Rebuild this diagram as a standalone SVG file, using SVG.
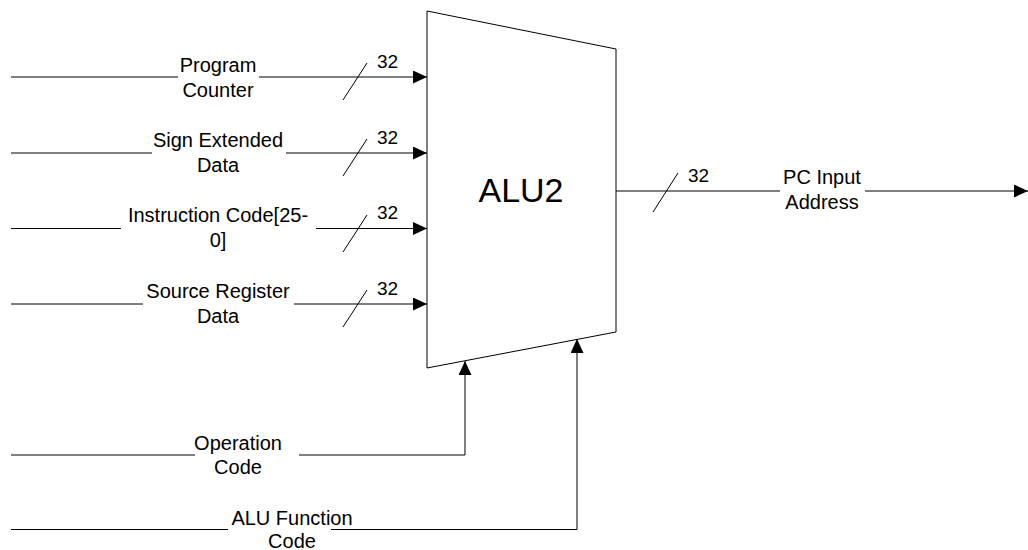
<svg xmlns="http://www.w3.org/2000/svg" width="1028" height="550" viewBox="0 0 1028 550">
<style>
.w{fill:none;stroke:#000;stroke-width:1}
.t{font-family:"Liberation Sans",Arial,sans-serif;font-size:20px;fill:#000;text-anchor:middle}
.n{font-family:"Liberation Sans",Arial,sans-serif;font-size:19px;fill:#000}
.big{font-family:"Liberation Sans",Arial,sans-serif;font-size:34px;fill:#000;text-anchor:middle}
</style>
<defs>
<marker id="ar" viewBox="0 0 14 13" refX="14" refY="6.5" markerWidth="14" markerHeight="13" markerUnits="userSpaceOnUse" orient="auto">
<path d="M0,0 L14,6.5 L0,13 Z" fill="#000"/>
</marker>
</defs>
<rect width="1028" height="550" fill="#fff"/>
<g id="alu2">
<polygon points="427,11 616,49 616,332 427,368" fill="#fff" stroke="#000" stroke-width="1"/>
<text class="big" x="521" y="202">ALU2</text>
</g>
<g id="connectors">
<path class="w" d="M11,77 H178 M259,77 H427" marker-end="url(#ar)"/>
<path class="w" d="M343,100 L367,63"/>
<path class="w" d="M11,153 H152 M286,153 H427" marker-end="url(#ar)"/>
<path class="w" d="M343,176 L367,139"/>
<path class="w" d="M11,228.5 H121 M316,228.5 H427" marker-end="url(#ar)"/>
<path class="w" d="M343,252 L367,215"/>
<path class="w" d="M11,304 H143 M294,304 H427" marker-end="url(#ar)"/>
<path class="w" d="M343,327 L367,290"/>
<path class="w" d="M616,191 H780 M865,191 H1028" marker-end="url(#ar)"/>
<path class="w" d="M653,212 L678,173"/>
<path class="w" d="M11,455 H195 M299,455 H465 V361" marker-end="url(#ar)"/>
<path class="w" d="M11,529.5 H228 M331,529.5 H577 V339" marker-end="url(#ar)"/>
</g>
<g id="labels">
<g id="lbl-pc"><text class="t" x="218" y="72">Program</text><text class="t" x="218" y="97">Counter</text></g>
<g id="lbl-sed"><text class="t" x="218" y="147">Sign Extended</text><text class="t" x="218" y="172">Data</text></g>
<g id="lbl-ic"><text class="t" x="218" y="222">Instruction Code[25-</text><text class="t" x="218" y="247">0]</text></g>
<g id="lbl-srd"><text class="t" x="218" y="298">Source Register</text><text class="t" x="218" y="323">Data</text></g>
<g id="lbl-pcia"><text class="t" x="822" y="184">PC Input</text><text class="t" x="822" y="209">Address</text></g>
<g id="lbl-op"><text class="t" x="238" y="450">Operation</text><text class="t" x="238" y="474">Code</text></g>
<g id="lbl-alufn"><text class="t" x="292" y="525">ALU Function</text><text class="t" x="292" y="548">Code</text></g>
<text class="n" x="377" y="68">32</text>
<text class="n" x="377" y="144">32</text>
<text class="n" x="377" y="219">32</text>
<text class="n" x="377" y="295">32</text>
<text class="n" x="688" y="182">32</text>
</g>
</svg>
